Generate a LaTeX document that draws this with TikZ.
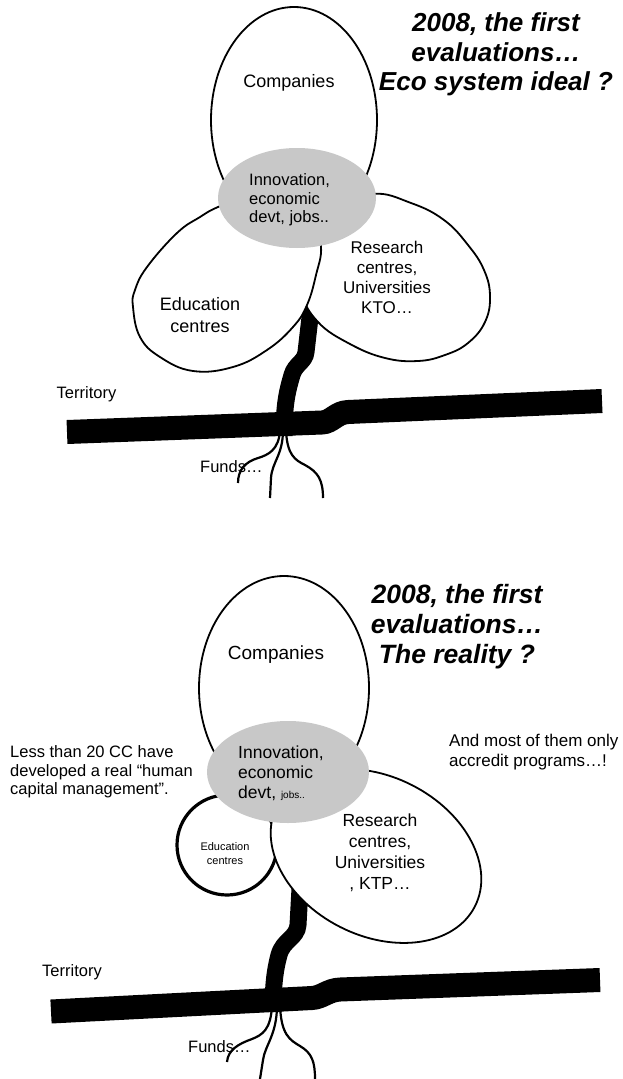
\documentclass[tikz,border=0pt]{standalone}
\usepackage{fontspec}
\setmainfont{Liberation Sans}
\usepackage{tikz}
\definecolor{hubgrey}{RGB}{200,200,200}

\begin{document}
\begin{tikzpicture}
          [x=1pt, y=-1pt,
          font=\fontsize{16.5}{18.5}\selectfont,
          lobe/.style={draw=black, fill=white, line width=1.8pt},
          hub/.style={fill=hubgrey},
          band/.style={line width=24pt},
          stem/.style={line width=17pt},
          root/.style={line width=2.2pt},
          txt/.style={inner sep=0pt, align=center},
          title/.style={inner sep=0pt, align=center, font=\fontsize{26}{29.5}\selectfont\bfseries\itshape}]

            \fill[white] (0,0) rectangle (623,1079);
            \useasboundingbox (0,0) rectangle (623,1079);

          % 2008, ideal
            \draw [stem] (312,300) -- (306,352) .. controls (305,362) and (295,364) .. (292,375) .. controls (287,392) and (284,405) .. (284,436);
            \draw [lobe] plot [smooth cycle, tension=0.7] coordinates {(372,194) (411,203) (444,220) (468,245) (484,270) (490,296) (485,322) (468,343) (445,355) (418,361) (385,358) (350,344) (318,322) (302,292) (305,255) (330,212)};
            \draw [lobe] plot [smooth cycle, tension=0.7] coordinates {(218,207) (200,217) (177,233) (147,267) (135,290) (133,307) (140,337) (160,357) (193,371) (233,367) (267,350) (293,327) (307,305) (316,275) (321,246) (312,215) (285,196) (250,195)};
            \draw [lobe] (294,120) ellipse [x radius=83pt, y radius=113pt];
            \fill [hub] (297,198) ellipse [x radius=79pt, y radius=50pt];

            \node (comp1) [txt, font=\fontsize{18}{21}\selectfont] at (289,83) {Companies};
            \node (hub1) [txt, align=left, anchor=west] at (249,200) {Innovation,\\economic\\devt, jobs..};
            \node (edu1) [txt, font=\fontsize{18}{22}\selectfont] at (200,315) {Education\\centres};
            \node (res1) [txt, font=\fontsize{17}{20}\selectfont] at (387,277) {Research\\centres,\\Universities\\KTO…};
            \node (title1) [title] at (496,54.5) {2008, the first\\evaluations…\\Eco system ideal ?};
            \node (terr1) [txt] at (86.5,394) {Territory};
            \node (funds1) [txt, anchor=west] at (200,467) {Funds…};

            \draw [root] (280,430) .. controls (279,450) and (268,455) .. (258,458) .. controls (245,462) and (238,470) .. (238,483);
            \draw [root] (283,430) .. controls (283,455) and (272,462) .. (271,478) -- (270,498);
            \draw [root] (286,430) .. controls (287,455) and (295,460) .. (305,465) .. controls (318,472) and (323,480) .. (323,498);
            \draw [band] (67,432) -- (322,422.5) .. controls (332,422) and (336,412.5) .. (348,412) -- (602,401);

          % 2008, reality
            \draw [stem] (301,870) -- (298,925) .. controls (297,938) and (283,940) .. (279,955) .. controls (275,970) and (273,985) .. (273,1012);
            \draw [lobe, line width=3.2pt] (227,845) circle [radius=50pt];
            \draw [lobe, rotate around={-27:(376,856)}] (376,856) ellipse [x radius=111pt, y radius=79.5pt];
            \draw [lobe] (284,688) ellipse [x radius=85pt, y radius=112pt];
            \fill [hub] (288,772) ellipse [x radius=81pt, y radius=51pt];

            \node (comp2) [txt, font=\fontsize{19}{22}\selectfont] at (276,655) {Companies};
            \node (hub2) [txt, align=left, anchor=west, font=\fontsize{17.5}{20}\selectfont] at (238,773) {Innovation,\\economic\\devt, {\fontsize{10}{12}\selectfont jobs..}};
            \node (edu2) [txt, font=\fontsize{11}{14}\selectfont] at (225,854) {Education\\centres};
            \node (res2) [txt, font=\fontsize{17.5}{21}\selectfont] at (380,852.5) {Research\\centres,\\Universities\\, KTP…};
            \node (title2) [title, font=\fontsize{26.5}{30}\selectfont\bfseries\itshape] at (457,627) {2008, the first\\evaluations…\\The reality ?};
            \node (less2) [txt, align=left, anchor=west] at (10,772) {Less than 20 CC have\\developed a real “human\\capital management”.};
            \node (most2) [txt, align=left, anchor=west, font=\fontsize{17}{20}\selectfont] at (449,752) {And most of them only\\accredit programs…!};
            \node (terr2) [txt] at (72,972) {Territory};
            \node (funds2) [txt, anchor=west] at (188,1047) {Funds…};

            \draw [root] (272,1005) .. controls (271,1030) and (262,1035) .. (252,1039) .. controls (238,1044) and (228,1050) .. (227,1062);
            \draw [root] (277,1005) .. controls (277,1035) and (265,1045) .. (263,1060) -- (260,1079);
            \draw [root] (280,1005) .. controls (281,1035) and (290,1040) .. (300,1046) .. controls (312,1053) and (315,1062) .. (315,1079);
            \draw [band] (51,1011.5) -- (312,998) .. controls (322,997.5) and (328,990) .. (340,989.5) -- (600,980);

        \end{tikzpicture}
\end{document}
